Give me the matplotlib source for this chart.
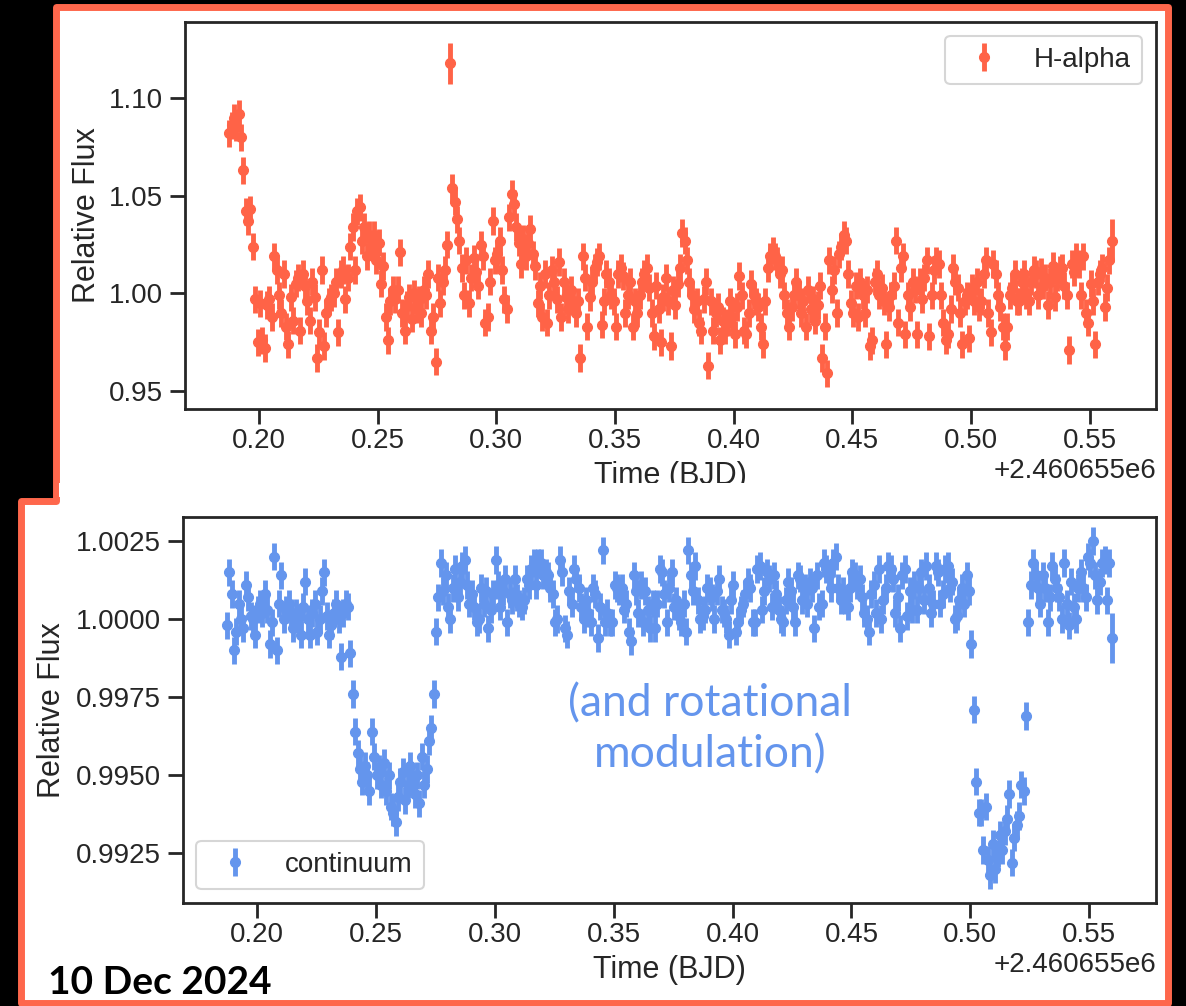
import numpy as np
import matplotlib
matplotlib.use("Agg")
import matplotlib.pyplot as plt
from matplotlib.patches import Polygon, Rectangle
from matplotlib.ticker import MultipleLocator, FormatStrFormatter

# ---------------- data ----------------
bjd_zero = 2460655.0
first_time = 0.1874   # days after bjd_zero of the first exposure
cadence = 0.001       # days between exposures

# H-alpha relative flux, stored as (flux - 1) * 1e3
halpha_mflux = [
    82, 86, 90, 85, 92, 80, 63, 42, 37, 43,
    24, -3, -25, -5, -24, -28, -6, -3, -12, 19,
    12, -1, -10, 10, -17, -26, -2, -14, 5, 8,
    -19, 10, 4, -4, -14, 6, -2, -33, -20, 12,
    -27, -10, -4, -2, 0, 6, -20, 10, 12, -3,
    8, 24, 34, 12, 42, 44, 27, 34, 19, 30,
    24, 30, 17, 26, 5, 14, -12, -24, -4, 2,
    -3, 2, 21, -10, -19, -6, -2, -13, 0, -8,
    -3, -10, 2, -1, 10, -19, -12, -35, 8, -5,
    6, 12, 25, 118, 54, 47, 38, 27, 13, -1,
    17, -5, 8, 18, 11, 4, 25, 19, -15, -12,
    6, 37, 17, 20, 27, 12, -3, -8, 39, 51,
    46, 34, 26, 15, 28, 19, 26, 33, 20, 14,
    -5, 4, -12, 10, -15, -1, 12, 6, -3, 16,
    -12, 6, -2, -8, 2, -4, -10, -4, -33, 19,
    8, -17, -2, 6, 13, 16, 19, -16, -4, 10,
    6, -1, -4, -17, 10, 13, 9, -10, -1, 6,
    -17, -4, -10, -1, 6, 10, 13, 3, -10, -22,
    4, -8, -25, -2, 8, -4, -27, 2, -6, 5,
    13, 31, 27, 17, 6, -1, -8, -4, -15, -19,
    -3, 6, -37, -4, -19, -10, -7, -24, -14, -19,
    -15, -4, -12, -21, -7, 9, -1, -19, -21, -10,
    5, -1, -4, -7, -17, -26, -4, 13, 19, 22,
    19, 17, 10, 12, -1, -10, -17, -7, -1, 6,
    -1, -10, -4, -17, 2, -8, -3, -14, -6, 4,
    -33, -17, -41, 17, 2, 12, -10, 20, 24, 30,
    27, 10, -5, -10, 4, -12, 6, -1, -10, 2,
    -27, -24, 6, 10, -1, 3, -4, -26, -7, -1,
    4, 27, -15, 13, 19, -21, -1, -7, 6, 2,
    -21, 6, -3, 8, 17, -22, -1, 12, 17, 15,
    -1, -15, -24, -21, -8, 13, 6, 3, -10, -26,
    -4, -1, -23, 3, -4, 6, -7, -4, 10, 17,
    -10, -20, 15, 10, -1, -7, -17, -27, -17, -1,
    3, 10, -4, -4, 6, 10, -1, -4, 6, 12,
    10, -1, 11, 4, 8, -6, 6, 14, -2, 8,
    12, 13, 4, -1, -29, 15, 11, 19, 15, -1,
    19, -10, -15, 5, -4, -26, 6, 10, 13, -7,
    3, 17, 27,
]
halpha_err_mflux = 7.0
halpha_err_special = {93: 10.5, 372: 11.0}

# continuum relative flux, stored as (flux - 1) * 1e4
continuum_flux_1e4 = [
    -2, 15, 8, -10, -4, 5, 0, -3, 11, 7,
    1, 0, -5, 3, 5, 2, 8, 3, -8, -1,
    20, -10, 5, 14, 0, 3, 5, 2, -3, 2,
    0, -5, 4, 12, 0, -5, 2, 5, -4, 0,
    9, 15, 1, -5, -2, 2, 5, 0, -12, 2,
    5, 4, -11, -24, -36, -43, -48, -52, -47, -50,
    -55, -36, -44, -50, -48, -53, -46, -55, -50, -60,
    -62, -65, -57, -52, -49, -58, -53, -47, -51, -56,
    -50, -59, -44, -53, -48, -39, -35, -24, -4, 7,
    18, 9, 14, 4, 0, 10, 16, 7, 12, 17,
    19, 11, 5, 8, 4, -1, 0, 10, 5, 9,
    -3, 3, 8, 19, 11, 4, 9, 13, -1, 8,
    6, 13, 7, 5, 4, 6, 13, 11, 16, 18,
    11, 18, 18, 14, 15, 14, 10, 8, -1, 0,
    19, 15, -3, -5, 9, 5, 16, 13, 10, 4,
    0, 6, 2, -1, 10, 8, -6, 4, 22, -1,
    2, -1, -1, 11, 10, 9, 10, 3, 5, -4,
    -7, 14, 9, 2, 11, -1, 9, 3, -3, 5,
    -3, 5, 16, 15, 8, -1, 10, 15, 4, 6,
    1, -1, 5, -4, 22, 14, 9, 17, 6, 0,
    1, 3, 10, 9, 7, 0, 9, 13, 3, 2,
    0, -5, 6, 11, -4, -1, 3, 5, 8, 12,
    10, -1, -1, 16, 17, 3, 9, 15, 13, 4,
    14, 8, 3, 0, -1, 6, 12, 9, 4, -1,
    14, 13, 6, 10, 5, 12, 10, -3, 14, 4,
    5, 18, 16, 14, 10, 18, 20, 10, 6, 9,
    6, 4, 10, 15, 14, 11, 13, 7, 2, 0,
    -4, 8, 11, 2, 16, 0, 6, 10, 17, 16,
    13, 2, 7, -3, 14, 16, 1, 9, 3, 11,
    3, 10, 15, 6, 17, 10, 2, 5, 17, 15,
    5, 8, 16, 17, 10, 12, 0, 1, 6, 10,
    5, 14, 9, -8, -29, -52, -62, -62, -74, -60,
    -77, -82, -72, -80, -75, -69, -74, -68, -64, -56,
    -78, -70, -66, -63, -53, -55, -31, -1, 11, 18,
    14, 10, 5, 14, 10, -1, 7, 17, 13, 10,
    7, 0, 18, 5, -2, 12, 4, 0, 10, 15,
    10, 7, 20, 18, 25, 14, 6, 12, 18, 19,
    6, 18, -6,
]
continuum_err_1e4 = 4.4
continuum_err_special = {372: 8.0}

series_labels = ["H-alpha", "continuum"]
halpha_yticks = [0.95, 1.00, 1.05, 1.10]
continuum_yticks = [0.9925, 0.9950, 0.9975, 1.0000, 1.0025]
date_text = "10 Dec 2024"
note_lines = ["(and rotational", "modulation)"]

# ---------------- derived arrays ----------------
n_pts = len(halpha_mflux)
time_bjd = bjd_zero + first_time + cadence * np.arange(n_pts)
halpha = 1.0 + np.array(halpha_mflux, float) / 1e3
halpha_err = np.full(n_pts, halpha_err_mflux / 1e3)
for i, v in halpha_err_special.items():
    halpha_err[i] = v / 1e3
cont = 1.0 + np.array(continuum_flux_1e4, float) / 1e4
cont_err = np.full(len(cont), continuum_err_1e4 / 1e4)
for i, v in continuum_err_special.items():
    cont_err[i] = v / 1e4

# ---------------- figure ----------------
W, H = 1186, 1006
fig = plt.figure(figsize=(W / 100, H / 100), dpi=100, facecolor="black")
plt.rcParams["font.family"] = ["Liberation Sans", "DejaVu Sans"]

def fx(x):
    return x / W

def fy(y):
    return 1 - y / H

ORANGE = "#FE674C"
TXT = "#262626"

frame = Polygon([(fx(55.5), fy(6.7)), (fx(1167.5), fy(6.7)), (fx(1167.5), fy(1003)),
                 (fx(21), fy(1003)), (fx(21), fy(501)), (fx(55.5), fy(501))],
                closed=True, transform=fig.transFigure, facecolor="white",
                edgecolor=ORANGE, linewidth=5.0, joinstyle="round", zorder=-1)
fig.patches.append(frame)

def style_axes(ax):
    for s in ax.spines.values():
        s.set_color(TXT)
        s.set_linewidth(2.0)
    ax.tick_params(axis="both", which="major", direction="out", length=10.5,
                   width=2.0, color=TXT, labelcolor=TXT, labelsize=20)
    ax.tick_params(axis="x", pad=3)
    ax.tick_params(axis="y", pad=5)
    ax.xaxis.set_major_locator(MultipleLocator(0.05))
    ax.xaxis.get_offset_text().set_fontsize(20)
    ax.xaxis.get_offset_text().set_color(TXT)

ax1 = fig.add_axes([fx(185), fy(409), fx(1156 - 185), (409 - 22) / H])
ax2 = fig.add_axes([fx(182.5), fy(903), fx(1156 - 182.5), (903 - 517) / H])

ax1.errorbar(time_bjd, halpha, yerr=halpha_err, fmt="o", color="tomato",
             ms=7.0, elinewidth=3.5, capsize=0, label=series_labels[0])
ax2.errorbar(time_bjd, cont, yerr=cont_err, fmt="o", color="cornflowerblue",
             ms=7.0, elinewidth=3.5, capsize=0, label=series_labels[1])

for ax in (ax1, ax2):
    style_axes(ax)
    ax.set_xlabel("Time (BJD)", fontsize=22, color=TXT)
    ax.set_ylabel("Relative Flux", fontsize=22, color=TXT)
    ax.xaxis.label.set_verticalalignment("baseline")
    ax.xaxis.set_label_coords(0.5, -75 / 386)

ax1.set_ylim(0.9408, 1.139)
ax1.set_yticks(halpha_yticks)
ax1.yaxis.set_major_formatter(FormatStrFormatter("%.2f"))
ax1.yaxis.set_label_coords((102 - 185) / 971, 0.5)

ax2.set_ylim(0.99091, 1.00327)
ax2.set_yticks(continuum_yticks)
ax2.yaxis.set_major_formatter(FormatStrFormatter("%.4f"))
ax2.yaxis.set_label_coords((67.5 - 182.5) / 973.5, 0.5)

for ax, loc in ((ax1, "upper right"), (ax2, "lower left")):
    leg = ax.legend(loc=loc, fontsize=20, frameon=True, fancybox=True,
                    borderaxespad=0.5)
    leg.get_frame().set_edgecolor("0.8")
    leg.get_frame().set_linewidth(1.5)
    for t in leg.get_texts():
        t.set_color(TXT)

# white strip of the lower slide panel that hides the bottom of the upper x label
fig.patches.append(Rectangle((fx(59), fy(497)), fx(1164 - 59), (497 - 483) / H,
                             transform=fig.transFigure, facecolor="white",
                             edgecolor="none", zorder=5))

fig.text(fx(48), fy(994), date_text, fontsize=28, fontweight="bold",
         color="black", family=["Lato", "DejaVu Sans"], ha="left", va="baseline")
fig.text(fx(710), fy(716), note_lines[0], fontsize=32, color="cornflowerblue",
         family=["Lato", "DejaVu Sans"], fontweight="normal", ha="center", va="baseline")
fig.text(fx(710), fy(767), note_lines[1], fontsize=32, color="cornflowerblue",
         family=["Lato", "DejaVu Sans"], fontweight="normal", ha="center", va="baseline")

fig.savefig("out.png", dpi=100, facecolor="black")
